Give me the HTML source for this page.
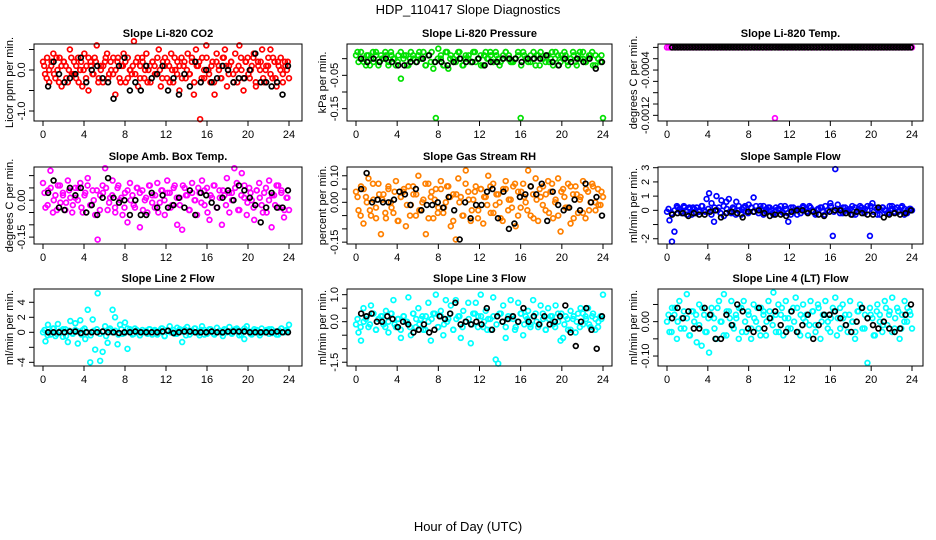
<!DOCTYPE html>
<html><head><meta charset="utf-8"><title>HDP_110417 Slope Diagnostics</title>
<style>
html,body{margin:0;padding:0;background:#fff;}
svg{display:block;font-family:"Liberation Sans",sans-serif;}
</style></head>
<body>
<svg id="chart" width="936" height="540" viewBox="0 0 936 540" xmlns="http://www.w3.org/2000/svg">
<text x="468" y="14" font-size="13" text-anchor="middle">HDP_110417  Slope Diagnostics</text>
<text x="468" y="531" font-size="13" text-anchor="middle">Hour of Day (UTC)</text>
</svg>
<script>
// ---- data ----
const xTicks = [0,4,8,12,16,20,24];
const titles = ["Slope Li-820 CO2","Slope Li-820 Pressure","Slope Li-820 Temp.","Slope Amb. Box Temp.","Slope Gas Stream RH","Slope Sample Flow","Slope Line 2 Flow","Slope Line 3 Flow","Slope Line 4 (LT) Flow"];
const yTitles = ["Licor ppm per min.","kPa per min.","degrees C per min.","degrees C per min.","percent per min.","ml/min per min.","ml/min per min.","ml/min per min.","ml/min per min."];
const colors = ["#ff0000","#00e000","#ff00ff","#ff00ff","#ff8000","#0000ff","#00ffff","#00ffff","#00ffff"];
const yRanges = [[-1.244,0.634],[-0.187,0.044],[-0.0013,0.00006],[-0.178,0.135],[-0.157,0.133],[-2.37,3.05],[-4.49,5.77],[-1.64,1.21],[-0.129,0.095]];
const yTickVals = [[-1.0,-0.5,0.0,0.5],[-0.15,-0.10,-0.05,0.0],[-0.0012,-0.001,-0.0008,-0.0006,-0.0004,-0.0002,0],[-0.15,-0.10,-0.05,0.0,0.05,0.10],[-0.15,-0.10,-0.05,0.0,0.05,0.10],[-2,-1,0,1,2,3],[-4,-2,0,2,4],[-1.5,-1.0,-0.5,0.0,0.5,1.0],[-0.10,-0.05,0.0,0.05]];
const yTickLabels = [["-1.0","","0.0",""],["-0.15","","-0.05",""],["-0.0012","","","","-0.0004","",""],["-0.15","","","0.00","",""],["-0.15","","","0.00","","0.10"],["-2","","0","1","2","3"],["-4","","0","2","4"],["-1.5","","","0.0","","1.0"],["-0.10","","0.00",""]];

const co2Vals = [0.2,-0.1,0.3,-0.3,0.1,0.4,-0.2,0.0,0.3,-0.4,0.2,0.1,-0.3,0.5,-0.1,0.2,-0.2,0.3,0.0,-0.4,0.4,0.1,-0.5,0.2,-0.1,0.3,0.6,-0.2,0.1,-0.3,0.2,0.4,-0.1,0.0,0.3,-0.6,0.2,-0.2,0.1,0.4,-0.3,0.3,0.0,-0.1,0.7,0.2,-0.4,0.1,0.3,-0.2,0.4,0.0,-0.3,0.2,0.1,-0.1,0.5,-0.4,0.2,0.3,-0.2,0.1,0.4,-0.3,0.0,0.2,-0.5,0.3,0.1,-0.2,0.4,-0.1,0.2,-0.6,0.5,0.1,-1.2,0.3,-0.2,0.6,0.0,-0.3,0.2,-0.6,0.4,0.1,-0.2,0.3,0.5,-0.4,0.1,0.2,-0.1,0.4,-0.3,0.6,0.0,-0.5,0.2,0.3,-0.2,0.1,0.4,-0.4,0.2,0.0,0.5,-0.3,0.1,0.3,0.5,-0.2,0.2,-0.4,0.1,0.3,-0.1,0.2,0.0,-0.2];
const co2Vals2 = [0.1,-0.2,0.0,0.2,-0.1,0.3,-0.3,0.1,0.2,-0.2,0.0,0.3,-0.1,0.1,-0.3,0.2,0.0,-0.2,0.3,0.1,-0.1,0.2,-0.3,0.0,0.1,0.3,-0.2,0.2,-0.1,0.0,0.3,-0.3,0.1,0.2,-0.2,0.0,0.1,-0.1,0.3,-0.2,0.2,0.0,-0.3,0.1,0.2,-0.1,0.3,0.0,-0.2,0.1,0.2,-0.3,0.0,0.3,-0.1,0.1,-0.2,0.2,0.0,-0.1,0.3,-0.3,0.1,0.2,-0.2,0.0,0.3,-0.1,0.1,-0.3,0.2,0.0,-0.2,0.3,0.1,-0.1,0.2,-0.3,0.0,0.1,0.3,-0.2,0.2,-0.1,0.0,0.3,-0.3,0.1,0.2,-0.2,0.0,0.1,-0.1,0.3,-0.2,0.2,0.0,-0.3,0.1,0.2];
const co2Ref = [-0.4,0.2,-0.1,-0.3,-0.2,-0.1,0.3,-0.3,0.0,0.1,-0.2,-0.3,-0.7,0.1,0.3,-0.5,-0.3,-0.5,0.1,-0.2,-0.1,0.1,-0.5,-0.2,-0.6,-0.1,-0.4,0.2,-0.3,0.0,-0.3,-0.2,0.1,0.0,-0.3,-0.2,-0.2,0.0,0.4,-0.3,-0.3,-0.4,-0.3,-0.6,0.1];
const presVals = [0.01,-0.01,0.02,0.0,-0.02,0.01,0.0,-0.01,0.02,-0.02,0.01,0.0,0.01,-0.01,0.02,0.0,-0.02,0.01,-0.06,0.0,0.01,-0.02,0.02,0.0,-0.01,0.01,0.0,0.02,-0.02,0.01,-0.01,-0.03,-0.178,0.03,0.0,-0.02,0.02,-0.03,0.01,0.0,-0.01,0.02,0.0,-0.02,0.01,0.0,-0.01,0.02,-0.01,0.0,0.01,-0.02,0.02,0.0,0.01,-0.01,0.02,0.0,-0.01,0.01,0.02,0.0,-0.01,-0.01,0.0,0.01,-0.178,0.02,0.0,-0.01,0.01,0.0,-0.02,0.01,0.02,0.0,-0.01,0.01,0.0,-0.02,0.02,0.01,-0.01,0.0,0.01,-0.02,0.0,0.02,-0.01,0.01,0.0,0.02,-0.01,0.0,0.01,-0.02,0.01,0.0,-0.01,-0.178];
const presVals2 = [0.02,0.0,-0.01,0.01,-0.02,0.02,0.01,-0.01,0.0,0.02,-0.02,0.01,0.0,-0.01,0.02,0.01,-0.02,0.0,0.01,-0.01,0.02,0.0,-0.02,0.01,0.02,-0.01,0.0,0.01,-0.02,0.02,0.0,-0.01,0.01,0.02,-0.02,0.0,0.01,-0.01,0.02,0.0,-0.02,0.01,0.0,0.02,-0.01,0.01,-0.02,0.0,0.02,0.01,-0.01,0.0,0.02,-0.02,0.01,0.0,-0.01,0.02,0.01,-0.02,0.0,0.01,-0.01,0.02,0.0,-0.02,0.01,0.02,-0.01,0.0,0.01,-0.02,0.02,0.0,-0.01,0.01,0.02,-0.02,0.0,0.01];
const presRef = [0.0,-0.01,0.0,-0.01,0.0,-0.01,-0.02,-0.02,-0.01,-0.01,0.0,0.01,-0.01,-0.01,-0.02,-0.01,0.0,-0.01,-0.01,0.0,-0.02,-0.01,-0.01,0.0,0.0,0.0,-0.01,0.0,0.0,0.0,0.01,-0.01,-0.02,0.0,-0.01,0.0,-0.01,0.0,-0.03,-0.01];
const tempVals = [0,0,0,0,0,0,0,0,0,0,0,0,0,0,0,0,0,0,0,0,0,0,0,0,0,0,-0.00125,0,0,0,0,0,0,0,0,0,0,0,0,0,0,0,0,0,0,0,0,0,0,0,0,0,0,0,0,0,0,0,0,0];
const tempVals2 = [0,0,0,0,0,0,0,0,0,0,0,0,0,0,0,0,0,0,0,0,0,0,0,0,0,0,0,0,0,0,0,0,0,0,0,0,0,0,0,0,0,0,0,0,0,0,0,0,0,0,0,0,0,0,0,0,0,0,0,0];
const tempRef = [0,0,0,0,0,0,0,0,0,0,0,0,0,0,0,0,0,0,0,0,0,0,0,0,0,0,0,0,0,0,0,0,0,0,0,0,0,0,0,0,0,0,0,0,0,0,0,0,0,0,0,0,0,0,0,0,0,0,0,0,0,0,0,0,0,0,0,0,0,0,0,0,0,0,0,0,0,0,0,0];
const boxVals = [0.07,-0.03,0.04,0.12,-0.05,0.02,0.06,-0.01,0.03,-0.04,0.08,0.01,-0.02,0.05,0.00,0.07,-0.05,0.03,0.09,-0.02,0.04,-0.06,-0.16,0.02,0.06,0.13,-0.04,0.01,0.08,-0.03,0.05,0.00,-0.06,0.03,-0.09,0.07,0.02,-0.03,0.05,-0.11,0.04,0.00,-0.05,0.06,0.02,-0.03,0.07,-0.01,0.04,-0.06,0.08,0.03,-0.02,0.06,-0.10,0.01,-0.12,0.05,0.02,-0.04,0.07,0.00,-0.06,0.03,0.08,-0.02,0.05,-0.08,0.01,0.06,-0.03,0.04,-0.10,0.02,0.09,-0.05,0.03,0.13,0.07,-0.04,0.11,0.01,-0.06,0.05,0.00,-0.08,0.04,0.07,-0.02,0.03,-0.05,0.08,-0.11,0.02,0.06,-0.03,0.04,-0.07,0.01,-0.04];
const boxVals2 = [0.03,-0.02,0.05,0.00,-0.04,0.06,0.02,-0.01,0.04,-0.05,0.01,0.05,-0.03,0.02,0.06,-0.02,0.00,0.04,-0.04,0.03,0.05,-0.01,0.02,-0.05,0.06,0.01,-0.03,0.04,0.00,-0.02,0.05,0.03,-0.04,0.01,0.06,-0.01,0.02,-0.05,0.04,0.00,0.03,-0.03,0.05,0.01,-0.02,0.06,0.02,-0.04,0.03,0.00,0.05,-0.01,0.04,-0.05,0.02,0.06,-0.03,0.01,0.04,-0.02,0.03,0.00,0.05,-0.04,0.02,0.06,-0.01,0.03,-0.03,0.04,0.01,-0.05,0.05,0.00,0.02,-0.02,0.06,0.03,-0.04,0.01];
const boxRef = [0.03,0.08,-0.03,-0.04,0.05,0.02,0.05,-0.05,-0.02,-0.06,0.01,0.09,0.01,-0.01,0.00,-0.06,0.00,-0.06,-0.06,0.03,-0.03,0.02,-0.03,-0.02,0.01,-0.03,0.04,-0.06,0.03,0.02,-0.01,-0.03,0.01,0.04,0.00,0.06,0.04,0.01,-0.02,-0.09,-0.03,0.03,-0.03,-0.03,0.04];
const rhVals = [0.04,-0.03,0.06,-0.08,0.02,0.09,-0.05,0.01,-0.02,0.07,-0.12,0.03,-0.06,0.05,0.00,-0.04,0.08,-0.07,0.02,0.04,-0.09,0.06,-0.01,0.03,-0.05,0.10,-0.03,0.01,-0.12,0.07,0.02,-0.06,0.05,-0.02,0.08,-0.04,0.00,0.06,-0.09,0.03,-0.14,0.09,0.02,-0.05,0.12,0.04,-0.07,0.01,0.06,-0.03,0.05,-0.08,0.02,0.10,-0.04,0.07,-0.01,0.03,-0.06,0.05,0.08,-0.03,0.01,0.06,-0.09,0.04,-0.02,0.07,0.00,0.12,-0.05,0.03,0.09,-0.07,0.02,0.06,-0.03,0.08,0.04,-0.06,0.01,0.09,-0.11,0.05,-0.02,0.07,-0.08,0.03,0.06,-0.04,0.02,0.08,-0.06,0.04,0.00,0.06,-0.03,0.05,-0.01,0.02];
const rhVals2 = [0.02,-0.05,0.05,0.00,-0.03,0.07,-0.06,0.03,0.01,-0.04,0.06,-0.02,0.04,-0.07,0.02,0.05,-0.01,-0.05,0.06,0.03,-0.03,0.00,0.07,-0.06,0.04,0.01,-0.04,0.05,-0.02,0.06,0.02,-0.07,0.03,0.00,-0.05,0.07,0.01,-0.03,0.04,-0.06,0.05,0.02,-0.01,0.06,-0.04,0.03,0.00,-0.07,0.05,0.01,-0.02,0.07,-0.05,0.04,0.02,-0.03,0.06,-0.06,0.01,0.05,-0.01,0.03,-0.04,0.07,0.00,-0.05,0.04,0.02,-0.02,0.06,-0.06,0.03,0.01,-0.04,0.05,-0.03,0.07,0.00,-0.01,0.04];
const rhRef = [0.05,0.11,0.00,0.01,0.00,0.00,0.01,0.04,0.03,-0.01,0.05,-0.03,-0.01,-0.01,0.00,-0.02,0.02,-0.03,-0.14,0.00,-0.06,-0.01,-0.01,0.04,0.05,-0.06,0.04,-0.10,-0.08,0.02,0.03,0.06,0.03,0.07,-0.07,0.04,-0.01,-0.03,-0.02,0.01,-0.03,0.07,0.00,0.02,-0.05];
const sampVals = [-0.1,-0.7,-2.2,-1.5,0.3,0.1,-0.2,0.2,-0.1,0.2,-0.3,0.1,0.2,-0.1,0.3,0.0,0.8,1.2,0.5,-0.8,1.0,0.2,0.7,-0.4,0.6,0.8,-0.2,0.1,0.6,0.3,-0.3,0.2,-0.1,0.4,0.2,0.9,0.3,-0.2,0.1,0.3,-0.1,0.2,0.0,-0.3,0.2,0.1,0.3,-0.2,0.1,-0.8,-0.3,0.2,0.0,0.1,-0.2,0.3,0.1,-0.1,0.2,0.0,-0.3,0.1,0.2,-0.1,0.3,0.0,0.5,-1.8,2.9,0.4,0.1,-0.2,0.2,0.0,0.1,-0.3,0.2,-0.1,0.3,0.0,0.1,0.3,-1.8,0.5,0.2,-0.3,0.1,0.2,0.0,-0.2,0.3,0.1,-0.1,0.2,0.0,0.3,0.1,-0.2,0.1,0.0];
const sampVals2 = [0.1,-0.2,0.0,0.2,-0.1,0.3,-0.3,0.1,0.2,-0.2,0.0,0.3,-0.1,0.1,-0.3,0.2,0.0,-0.2,0.3,0.1,-0.1,0.2,-0.3,0.0,0.1,0.3,-0.2,0.2,-0.1,0.0,0.3,-0.3,0.1,0.2,-0.2,0.0,0.1,-0.1,0.3,-0.2,0.2,0.0,-0.3,0.1,0.2,-0.1,0.3,0.0,-0.2,0.1,0.2,-0.3,0.0,0.3,-0.1,0.1,-0.2,0.2,0.0,-0.1,0.3,-0.3,0.1,0.2,-0.2,0.0,0.3,-0.1,0.1,-0.3,0.2,0.0,-0.2,0.3,0.1,-0.1,0.2,-0.3,0.0,0.1];
const sampRef = [-0.3,-0.2,-0.2,-0.4,-0.2,-0.3,-0.3,-0.1,0.0,-0.5,-0.2,-0.1,-0.2,-0.5,-0.1,-0.1,0.0,-0.2,-0.4,-0.3,-0.3,-0.4,-0.1,0.0,0.0,-0.2,-0.1,-0.3,-0.4,-0.1,0.0,0.0,-0.2,-0.3,-0.1,-0.2,-0.3,-0.3,0.2,-0.5,-0.3,-0.2,-0.3,-0.2,0.0];
const line2Vals = [0.0,-1.2,1.0,-0.3,0.5,-0.5,1.1,0.2,-0.6,0.4,-1.3,1.5,-0.2,1.2,-1.5,1.6,0.3,-0.9,3.0,-4.0,1.7,-2.3,5.2,-3.8,-2.6,0.8,-1.4,0.5,3.0,2.0,-1.6,1.0,-0.2,1.3,-2.2,0.4,-0.3,0.5,0.2,-0.4,0.3,0.1,-0.2,0.4,0.0,0.3,-0.3,0.2,0.5,-0.5,0.3,0.8,0.0,-0.2,0.6,0.2,-1.3,0.4,0.7,-0.3,0.2,0.5,0.0,-0.4,0.8,0.3,-0.2,0.4,0.1,-0.3,0.6,0.2,-0.1,0.4,0.0,0.7,-0.2,0.3,0.5,-0.4,0.2,-0.9,0.8,0.1,-0.3,0.4,0.2,-0.1,0.5,0.0,0.3,-0.2,0.4,0.1,-0.3,0.2,0.5,0.0,0.3,1.0];
const line2Vals2 = [0.3,-0.4,0.1,0.5,-0.2,0.0,0.4,-0.5,0.2,-0.1,0.3,0.1,-0.3,0.5,0.0,-0.4,0.2,0.4,-0.2,0.1,-0.5,0.3,0.0,0.2,-0.3,0.4,-0.1,0.5,0.1,-0.2,0.3,-0.4,0.0,0.2,0.4,-0.3,0.1,-0.1,0.5,-0.5,0.2,0.0,0.3,-0.2,0.4,0.1,-0.4,0.2,0.0,0.5,-0.1,0.3,-0.3,0.1,0.4,-0.2,0.0,0.2,-0.5,0.3,0.1,-0.1,0.4,0.0,-0.3,0.5,0.2,-0.2,0.1,0.3,-0.4,0.0,0.2,0.4,-0.1,0.1,-0.3,0.5,0.0,0.2];
const line2Ref = [0,0,0,0,0.1,0.1,-0.1,0,0,0,0.1,0,0,-0.1,0,0,0.1,0,0,0,0,0.1,0.2,-0.1,0,0.1,0.1,0,0,0,0.1,0,0,0.1,0.1,0.1,0.1,0,0,0,0,0,0.1,0,0];
const line3Vals = [-0.1,-0.4,-0.7,0.5,0.1,-0.2,0.6,0.3,-0.3,0.1,0.2,-0.1,0.4,-0.4,0.3,0.8,-0.2,0.1,-0.6,0.2,0.0,0.9,-0.5,0.3,-0.2,0.5,0.1,-0.3,0.2,0.7,-0.7,0.3,1.0,-0.2,0.4,-0.5,0.8,0.1,0.6,-0.3,0.8,0.2,-0.6,0.4,0.0,0.7,-0.8,0.3,0.7,0.2,1.0,-0.2,0.4,0.1,-0.3,0.9,-1.4,-1.55,0.3,0.6,-0.6,0.2,0.8,0.1,-0.2,0.7,0.3,-0.5,0.2,0.4,-0.1,0.8,0.3,-0.2,0.6,0.1,-0.3,0.5,0.2,-0.1,0.6,0.3,-0.7,-0.6,0.2,-0.3,0.4,0.1,-0.4,0.3,0.5,-0.1,0.2,0.5,-0.2,0.3,0.1,-0.2,0.2,1.0];
const line3Vals2 = [0.1,-0.2,0.0,0.2,-0.1,0.3,-0.3,0.1,0.2,-0.2,0.0,0.3,-0.1,0.1,-0.3,0.2,0.0,-0.2,0.3,0.1,-0.1,0.2,-0.3,0.0,0.1,0.3,-0.2,0.2,-0.1,0.0,0.3,-0.3,0.1,0.2,-0.2,0.0,0.1,-0.1,0.3,-0.2,0.2,0.0,-0.3,0.1,0.2,-0.1,0.3,0.0,-0.2,0.1,0.2,-0.3,0.0,0.3,-0.1,0.1,-0.2,0.2,0.0,-0.1,0.3,-0.3,0.1,0.2,-0.2,0.0,0.3,-0.1,0.1,-0.3,0.2,0.0,-0.2,0.3,0.1,-0.1,0.2,-0.3,0.0,0.1];
const line3Ref = [0.3,0.2,0.3,0.0,0.0,0.2,0.1,-0.2,0.0,-0.1,-0.4,-0.3,-0.1,-0.4,-0.3,0.2,0.1,0.3,0.7,-0.1,0.0,-0.1,0.0,-0.1,0.5,-0.3,0.2,0.0,0.1,0.2,0.0,0.5,0.0,0.2,-0.1,0.2,-0.1,0.0,0.2,0.6,-0.4,-0.9,0.0,0.5,-0.3,-1.0,0.2];
const line4Vals = [0.00,-0.03,0.04,0.02,-0.05,0.06,0.01,-0.02,0.08,-0.04,0.03,0.00,-0.06,0.05,-0.07,0.02,-0.03,-0.09,0.04,0.01,-0.05,0.06,0.00,0.08,-0.04,0.03,0.06,-0.02,0.01,-0.05,0.04,0.06,-0.03,0.02,-0.05,0.05,0.00,-0.02,0.04,0.03,-0.04,0.06,0.01,0.085,-0.03,0.05,0.02,-0.04,0.06,0.01,-0.02,0.04,0.07,-0.03,0.02,0.05,0.00,-0.04,0.06,0.03,-0.01,0.05,-0.05,0.02,0.06,0.00,-0.03,0.04,0.07,0.01,-0.02,0.05,0.02,-0.03,0.06,0.00,-0.05,0.03,0.05,-0.02,0.02,-0.12,0.04,0.01,-0.04,0.05,0.02,-0.03,0.06,-0.01,0.03,0.07,-0.02,0.04,-0.05,0.02,0.06,0.00,0.03,-0.02];
const line4Vals2 = [0.02,-0.03,0.04,0.00,-0.02,0.03,0.01,-0.04,0.03,0.02,-0.01,0.04,-0.03,0.01,0.02,-0.02,0.04,0.00,-0.04,0.03,0.01,-0.01,0.02,0.04,-0.03,0.00,0.03,-0.02,0.01,0.04,-0.04,0.02,0.00,0.03,-0.01,0.02,-0.03,0.04,0.01,-0.02,0.03,0.00,0.04,-0.04,0.01,0.02,-0.01,0.03,-0.03,0.04,0.00,0.02,-0.02,0.01,0.03,-0.04,0.04,0.01,-0.01,0.02,0.00,-0.03,0.03,0.04,-0.02,0.01,0.02,-0.04,0.03,0.00,-0.01,0.04,0.02,-0.03,0.01,0.03,-0.02,0.00,0.04,0.02];
const line4Ref = [0.01,0.04,0.01,0.03,-0.02,-0.02,0.04,0.02,-0.05,-0.05,0.02,-0.01,0.05,0.03,-0.02,-0.03,0.04,-0.02,0.01,0.03,-0.01,-0.03,0.03,-0.03,-0.01,0.02,-0.05,-0.01,0.02,0.02,0.03,0.01,-0.01,-0.03,0.00,0.04,0.01,-0.01,-0.02,0.00,-0.02,-0.03,-0.02,0.02,0.05];
const seriesVals = [co2Vals,presVals,tempVals,boxVals,rhVals,sampVals,line2Vals,line3Vals,line4Vals];
const seriesVals2 = [co2Vals2,presVals2,tempVals2,boxVals2,rhVals2,sampVals2,line2Vals2,line3Vals2,line4Vals2];
const seriesRef = [co2Ref,presRef,tempRef,boxRef,rhRef,sampRef,line2Ref,line3Ref,line4Ref];

// ---- layout (not data) ----
const colLeft = [34,347,658], colRight = [302,612,923];
const colX0 = [43,356,667], colX24 = [289,603,912];
const rowTop = [44,167,289], rowBottom = [121,244,366];
const yTitleX = [9,322,633];
const NS = "http://www.w3.org/2000/svg";
const svg = document.getElementById('chart');
function mk(tag, attrs, parent){const e=document.createElementNS(NS,tag);for(const k in attrs)e.setAttribute(k,attrs[k]);(parent||svg).appendChild(e);return e;}

for(let p=0;p<9;p++){
  const c=p%3, r=Math.floor(p/3);
  const L=colLeft[c], R=colRight[c], T=rowTop[r], B=rowBottom[r];
  const xs=h=>colX0[c]+(colX24[c]-colX0[c])*h/24;
  const [ymin,ymax]=yRanges[p];
  const ys=v=>B-(v-ymin)/(ymax-ymin)*(B-T);
  const g=mk('g',{});
  
  
  const t=mk('text',{x:(L+R)/2,y:T-7,'font-size':11,'font-weight':'bold','text-anchor':'middle'},g);
  t.textContent=titles[p];
  
  
  const yt=mk('text',{x:yTitleX[c],y:(T+B)/2,'font-size':11,'text-anchor':'middle',transform:`rotate(-90 ${yTitleX[c]} ${(T+B)/2})`,dy:'0.35em'},g);
  yt.textContent=yTitles[p];
  
  
  // series
  const pts=mk('g',{fill:'none',stroke:colors[p],'stroke-width':1.7},g);
  
  
  const vals=seriesVals[p];
  vals.forEach((v,i)=>{
    const ci=mk('circle',{cx:xs(i*24/(vals.length-1)),cy:ys(v),r:2.4},pts);
    
    
  });
  const vals2=seriesVals2[p];
  vals2.forEach((v,i)=>{
    const ci=mk('circle',{cx:xs((i+0.5)*24/vals2.length),cy:ys(v),r:2.4},pts);
    
    
  });
  const refg=mk('g',{fill:'none',stroke:'#000','stroke-width':1.7},g);
  
  
  const ref=seriesRef[p];
  ref.forEach((v,i)=>{
    const ci=mk('circle',{cx:xs(0.5+i*23.4/(ref.length-1)),cy:ys(v),r:2.4},refg);
    
    
  });
  // box
  const bx=mk('rect',{x:L,y:T,width:R-L,height:B-T,fill:'none',stroke:'#000','stroke-width':1},g);
  
  
  // x axis
  mk('line',{x1:xs(0),x2:xs(24),y1:B,y2:B,stroke:'#000'},g);
  xTicks.forEach(h=>{
    mk('line',{x1:xs(h),x2:xs(h),y1:B,y2:B+5,stroke:'#000'},g);
    const tl=mk('text',{x:xs(h),y:B+17,'font-size':11,'text-anchor':'middle'},g);
    tl.textContent=String(h);
    
    
  });
  // y axis
  yTickVals[p].forEach((v,i)=>{
    const y=ys(v);
    mk('line',{x1:L-5,x2:L,y1:y,y2:y,stroke:'#000'},g);
    const lab=yTickLabels[p][i];
    if(lab){
      const tl=mk('text',{x:L-9,y:y,'font-size':11,'text-anchor':'middle',transform:`rotate(-90 ${L-9} ${y})`},g);
      tl.textContent=lab;
      
      
    }
  });
}
</script>
</body></html>
